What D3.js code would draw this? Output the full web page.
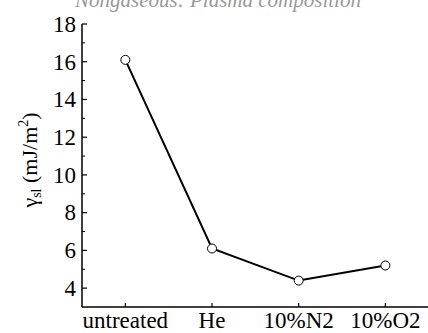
<!DOCTYPE html>
<html>
<head>
<meta charset="utf-8">
<script src="https://cdn.jsdelivr.net/npm/d3@7"></script>
<style>
  body { margin: 0; background: #fff; }
  svg { display: block; font-family: "Liberation Serif", "Times New Roman", serif; }
</style>
</head>
<body>
<div id="chart"></div>
<script>
// data
var categories = ['untreated', 'He', '10%N2', '10%O2'];
var energyValues = [16.1, 6.1, 4.4, 5.2];
var yMajorTicks = [4, 6, 8, 10, 12, 14, 16, 18];
var yMinorTicks = [5, 7, 9, 11, 13, 15, 17];

var W = 428, H = 333;
var margin = { top: 24, right: 0, bottom: 26, left: 82 };

var svg = d3.select('#chart').append('svg')
  .attr('width', W).attr('height', H);

// title left over at the top, mostly cut off in the source
svg.append('text')
  .attr('x', 218).attr('y', 7)
  .attr('text-anchor', 'middle')
  .attr('font-size', 21)
  .attr('font-style', 'italic')
  .attr('fill', '#999')
  .text('Nongaseous: Plasma composition');

var x = d3.scalePoint().domain(categories).range([margin.left, 428.7]).padding(0.5);
var y = d3.scaleLinear().domain([3, 18]).range([H - margin.bottom, margin.top]);

// Y axis (ticks inward)
var yAxis = svg.append('g').attr('transform', 'translate(' + margin.left + ',0)');
yAxis.append('line')
  .attr('x1', 0).attr('x2', 0)
  .attr('y1', y(18)).attr('y2', y(3))
  .attr('stroke', '#000').attr('stroke-width', 1.5);
yAxis.selectAll('.major').data(yMajorTicks).enter().append('line')
  .attr('x1', 0).attr('x2', 5)
  .attr('y1', function (d) { return y(d); })
  .attr('y2', function (d) { return y(d); })
  .attr('stroke', '#000').attr('stroke-width', 1.2);
yAxis.selectAll('.minor').data(yMinorTicks).enter().append('line')
  .attr('x1', 0).attr('x2', 3)
  .attr('y1', function (d) { return y(d); })
  .attr('y2', function (d) { return y(d); })
  .attr('stroke', '#000').attr('stroke-width', 1);
yAxis.selectAll('text').data(yMajorTicks).enter().append('text')
  .attr('x', -6)
  .attr('y', function (d) { return y(d); })
  .attr('dy', '0.34em')
  .attr('text-anchor', 'end')
  .attr('font-size', 23)
  .text(function (d) { return d; });

// X axis
var xAxis = svg.append('g').attr('transform', 'translate(0,' + y(3) + ')');
xAxis.append('line')
  .attr('x1', margin.left).attr('x2', W)
  .attr('y1', 0).attr('y2', 0)
  .attr('stroke', '#000').attr('stroke-width', 1.5);
xAxis.selectAll('.tick').data(categories).enter().append('line')
  .attr('x1', function (d) { return x(d); })
  .attr('x2', function (d) { return x(d); })
  .attr('y1', 0).attr('y2', -4)
  .attr('stroke', '#000').attr('stroke-width', 1.2);
xAxis.selectAll('text').data(categories).enter().append('text')
  .attr('x', function (d) { return x(d); })
  .attr('y', 21)
  .attr('text-anchor', 'middle')
  .attr('font-size', 23)
  .text(function (d) { return d; });

// Y label
var yl = svg.append('text')
  .attr('transform', 'translate(37,160) rotate(-90)')
  .attr('text-anchor', 'middle')
  .attr('font-size', 22);
yl.append('tspan').text('\u03B3');
yl.append('tspan').attr('font-size', 14).attr('dy', 4).text('sl');
yl.append('tspan').attr('dy', -4).text(' (mJ/m');
yl.append('tspan').attr('font-size', 14).attr('dy', -9).text('2');
yl.append('tspan').attr('dy', 9).text(')');

// line + markers
var pts = categories.map(function (c, i) { return { c: c, v: energyValues[i] }; });
svg.append('path')
  .datum(pts)
  .attr('fill', 'none')
  .attr('stroke', '#000')
  .attr('stroke-width', 2)
  .attr('d', d3.line().x(function (d) { return x(d.c); }).y(function (d) { return y(d.v); }));
svg.selectAll('circle').data(pts).enter().append('circle')
  .attr('cx', function (d) { return x(d.c); })
  .attr('cy', function (d) { return y(d.v); })
  .attr('r', 4.5)
  .attr('fill', '#fff')
  .attr('stroke', '#000')
  .attr('stroke-width', 1);
</script>
</body>
</html>
